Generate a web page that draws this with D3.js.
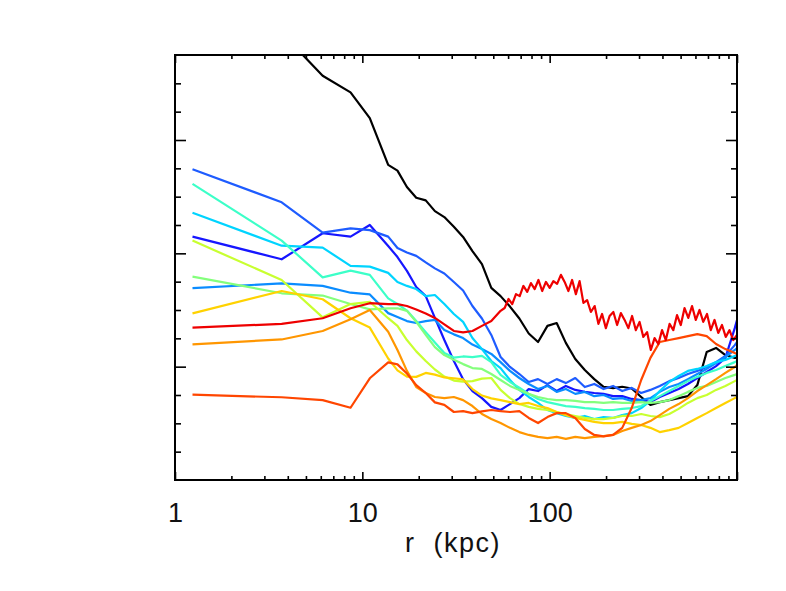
<!DOCTYPE html>
<html>
<head>
<meta charset="utf-8">
<script src="https://cdn.jsdelivr.net/npm/d3@7"></script>
<style>
  html, body { margin: 0; padding: 0; background: #fff; }
  svg { display: block; }
</style>
</head>
<body>
<svg></svg>
<script>
// radial bins (kpc), shared by most profiles
const radii = [1.24, 3.71, 6.14, 8.65, 10.96, 13.74, 15.4, 17.3, 19.4, 21.8, 24.4, 27.4, 30.8, 34.5,
  38.7, 43.5, 48.8, 54.7, 61.4, 68.9, 77.3, 86.7, 97.3, 109, 122, 137, 154, 173, 194, 218, 244,
  274, 308, 345, 387, 435, 488, 547, 614, 689, 773, 867, 973, 1000];

// the red profile is sampled more finely past ~55 kpc
const redRadii = radii.slice(0, 18).concat([57.5, 60.3, 63.1, 66.1, 69.2, 72.4, 75.9, 79.4, 83.2,
  87.1, 91.2, 95.5, 100, 104.7, 109.6, 114.8, 120.2, 125.9, 131.8, 138.0, 144.5, 151.4, 158.5,
  166.0, 173.8, 182.0, 190.5, 199.5, 208.9, 218.8, 229.1, 239.9, 251.2, 263.0, 275.4, 288.4,
  302.0, 316.2, 331.1, 346.7, 363.1, 380.2, 398.1, 416.9, 436.5, 457.1, 478.6, 501.2, 524.8,
  549.5, 575.4, 602.6, 631.0, 660.7, 691.8, 724.4, 758.6, 794.3, 831.8, 871.0, 912.0, 955.0, 1000]);

const black = [17.12, 15.78, 14.27, 13.68, 12.77, 11.12, 10.92, 10.34, 9.96, 9.87, 9.49, 9.28, 8.94,
  8.58, 8.08, 7.62, 6.78, 6.49, 6.12, 5.70, 5.17, 4.87, 5.44, 5.54, 4.84, 4.27, 3.88, 3.56, 3.29,
  3.24, 3.29, 3.23, 2.93, 2.65, 2.75, 2.82, 2.89, 2.96, 3.35, 4.52, 4.66, 4.41, 4.31, 4.31];
const blueDark = [8.59, 7.79, 8.71, 8.59, 9.00, 8.26, 7.87, 7.38, 6.81, 6.49, 5.72, 4.94, 4.20, 3.56,
  3.14, 2.89, 2.58, 2.47, 2.68, 2.89, 3.21, 3.14, 3.35, 3.14, 3.32, 3.18, 3.11, 3.07, 3.04, 2.96,
  2.96, 2.86, 2.82, 2.75, 2.93, 3.07, 3.21, 3.39, 3.60, 3.81, 4.02, 4.31, 5.36, 5.65];
const blueMid = [10.97, 9.80, 8.73, 8.88, 8.82, 8.59, 8.19, 8.03, 7.91, 7.68, 7.47, 7.29, 6.99, 6.69,
  6.14, 5.70, 5.12, 4.34, 3.99, 3.74, 3.46, 3.56, 3.39, 3.56, 3.42, 3.60, 3.28, 3.39, 3.21, 3.32,
  3.14, 3.25, 3.07, 3.18, 3.32, 3.49, 3.60, 3.74, 3.85, 3.99, 4.16, 4.38, 4.76, 4.87];
const azure = [6.77, 6.94, 6.85, 6.61, 6.55, 5.89, 5.75, 5.61, 5.54, 5.61, 5.65, 5.29, 5.14, 5.01,
  4.78, 4.62, 4.45, 4.16, 3.85, 3.60, 3.39, 3.21, 3.32, 3.11, 3.21, 3.04, 3.11, 2.96, 3.00, 2.86,
  2.89, 2.79, 2.82, 2.89, 3.11, 3.28, 3.39, 3.56, 3.74, 3.92, 4.13, 4.34, 4.59, 4.66];
const cyan = [9.43, 8.27, 8.20, 7.56, 7.53, 7.31, 6.99, 6.85, 6.74, 6.49, 6.53, 6.21, 5.86, 5.58,
  5.01, 4.62, 4.20, 3.95, 3.53, 3.18, 2.93, 2.72, 2.47, 2.36, 2.26, 2.19, 2.26, 2.15, 2.22, 2.19,
  2.29, 2.36, 2.54, 2.79, 3.14, 3.46, 3.67, 3.85, 3.92, 4.02, 4.16, 4.24, 4.38, 4.38];
const aqua = [10.45, 8.45, 7.15, 7.39, 7.24, 6.41, 6.21, 5.98, 5.61, 5.22, 4.85, 4.48, 4.32, 4.36,
  4.34, 4.38, 4.16, 3.71, 3.46, 3.26, 3.04, 2.86, 2.75, 2.68, 2.61, 2.58, 2.54, 2.51, 2.47, 2.47,
  2.51, 2.54, 2.61, 2.79, 2.96, 3.14, 3.32, 3.49, 3.64, 3.78, 3.88, 4.02, 4.16, 4.20];
const green = [7.18, 6.59, 6.51, 6.21, 6.02, 6.06, 6.06, 5.97, 5.58, 5.12, 4.69, 4.41, 4.24, 4.09,
  3.95, 3.92, 3.74, 3.53, 3.32, 3.18, 3.04, 2.93, 2.86, 2.82, 2.82, 2.79, 2.75, 2.75, 2.72, 2.75,
  2.72, 2.72, 2.75, 2.72, 2.75, 2.82, 2.96, 3.11, 3.25, 3.32, 3.46, 3.60, 3.71, 3.74];
const lime = [8.45, 7.06, 5.74, 6.21, 6.29, 5.71, 5.44, 4.94, 4.54, 4.20, 3.90, 3.65, 3.51, 3.47,
  3.49, 3.58, 3.60, 3.18, 2.89, 2.68, 2.58, 2.51, 2.47, 2.40, 2.33, 2.26, 2.19, 2.15, 2.15, 2.19,
  2.26, 2.26, 2.33, 2.26, 2.22, 2.33, 2.51, 2.72, 2.89, 3.00, 3.18, 3.32, 3.49, 3.53];
const yellow = [5.88, 6.67, 6.38, 5.71, 5.38, 4.29, 3.87, 3.65, 3.64, 3.78, 3.72, 3.62, 3.59, 3.55,
  3.21, 2.98, 2.88, 2.82, 2.75, 2.68, 2.72, 2.61, 2.54, 2.40, 2.29, 2.19, 2.12, 2.05, 2.01, 2.01,
  2.05, 1.98, 1.94, 1.84, 1.69, 1.76, 1.84, 2.01, 2.19, 2.36, 2.54, 2.72, 2.89, 2.93];
const orange = [4.79, 4.96, 5.26, 5.67, 6.00, 5.23, 4.59, 3.85, 3.28, 3.07, 2.93, 2.89, 2.93, 2.82,
  2.61, 2.33, 2.15, 2.01, 1.84, 1.69, 1.59, 1.52, 1.48, 1.52, 1.45, 1.52, 1.48, 1.52, 1.55, 1.59,
  1.73, 1.84, 1.94, 2.08, 2.29, 2.51, 2.68, 2.89, 3.14, 3.35, 3.56, 3.78, 3.99, 4.06];
const vermilion = [3.01, 2.92, 2.82, 2.55, 3.59, 4.15, 4.08, 3.76, 3.35, 3.07, 2.74, 2.65, 2.40, 2.43,
  2.36, 2.42, 2.47, 2.43, 2.40, 2.43, 2.19, 2.01, 2.22, 2.36, 2.36, 2.19, 1.80, 1.59, 1.54, 1.59,
  1.84, 2.54, 3.53, 4.31, 4.87, 4.94, 5.01, 5.08, 5.15, 5.08, 4.80, 4.62, 4.48, 4.45];
const red = [5.38, 5.51, 5.71, 6.06, 6.24, 6.21, 6.21, 6.14, 6.02, 5.88, 5.72, 5.49, 5.26, 5.21,
  5.26, 5.44, 5.61, 5.97,
  6.07, 6.39, 6.21, 6.56, 6.49, 6.85, 6.64, 6.95, 6.74, 7.06, 6.67, 6.99, 6.78, 7.02, 6.92, 7.24,
  6.99, 6.67, 7.06, 6.56, 7.02, 6.25, 6.35, 5.93, 6.14, 5.51, 5.86, 5.36, 5.79, 5.93, 5.47, 5.89,
  5.65, 5.36, 5.79, 5.29, 5.58, 5.05, 5.22, 4.59, 5.01, 4.80, 5.29, 4.94, 5.51, 5.29, 5.82, 5.47,
  6.07, 5.72, 6.14, 5.65, 6.00, 5.58, 5.86, 5.29, 5.65, 5.19, 5.47, 5.05, 5.29, 4.94, 5.12];

const xTickLabels = ['1', '10', '100'];

const profiles = [
  { r: radii, v: black, color: '#000000' },
  { r: radii, v: blueDark, color: '#1616ff' },
  { r: radii, v: blueMid, color: '#1e5cff' },
  { r: radii, v: azure, color: '#0a8cff' },
  { r: radii, v: cyan, color: '#00d4ff' },
  { r: radii, v: aqua, color: '#3cffc8' },
  { r: radii, v: green, color: '#84ff7c' },
  { r: radii, v: lime, color: '#c8ff30' },
  { r: radii, v: yellow, color: '#ffd200' },
  { r: radii, v: orange, color: '#ff9600' },
  { r: radii, v: vermilion, color: '#ff4600' },
  { r: redRadii, v: red, color: '#ee0000' }
];

const width = 786, height = 591;
const margin = { top: 55, right: 49, bottom: 111, left: 175 };
const innerWidth = width - margin.left - margin.right;
const innerHeight = height - margin.top - margin.bottom;

const svg = d3.select('svg')
  .attr('width', width)
  .attr('height', height)
  .style('background', '#fff');

const x = d3.scaleLog().domain([1, 1000]).range([0, innerWidth]);
const y = d3.scaleLinear().domain([0, 15]).range([innerHeight, 0]);

const g = svg.append('g')
  .attr('transform', `translate(${margin.left},${margin.top})`);

g.append('clipPath').attr('id', 'plot')
  .append('rect').attr('width', innerWidth).attr('height', innerHeight);

const line = d3.line()
  .x(d => x(d[0]))
  .y(d => y(d[1]));

g.append('g').attr('clip-path', 'url(#plot)')
  .selectAll('path').data(profiles)
  .enter().append('path')
  .attr('d', p => line(p.r.map((r, i) => [r, p.v[i]])))
  .attr('fill', 'none')
  .attr('stroke', p => p.color)
  .attr('stroke-width', 2.2)
  .attr('stroke-linejoin', 'round');

// ticks point inward on all four sides
const majorX = [1, 10, 100, 1000];
const minorX = [];
[1, 10, 100].forEach(dec => { for (let k = 2; k <= 9; k++) minorX.push(dec * k); });
const majorY = [4, 8, 12];
const minorY = d3.range(1, 15).filter(v => !majorY.includes(v));

const fontFamily = '"Liberation Sans", Arial, sans-serif';

function styleAxis(sel) {
  sel.select('.domain').remove();
  sel.selectAll('line').attr('stroke', '#000').attr('stroke-width', 1.6);
  sel.selectAll('text').filter(function () { return !this.textContent; }).remove();
}

g.append('g').attr('transform', `translate(0,${innerHeight})`)
  .call(d3.axisBottom(x).tickValues(minorX).tickSize(-4).tickFormat(''))
  .call(styleAxis);
g.append('g').attr('transform', `translate(0,${innerHeight})`)
  .call(d3.axisBottom(x).tickValues(majorX).tickSize(-8).tickPadding(23)
    .tickFormat((d, i) => xTickLabels[i] || ''))
  .call(styleAxis)
  .selectAll('text')
  .attr('font-family', fontFamily)
  .attr('font-size', 27)
  .attr('fill', '#111');

g.append('g')
  .call(d3.axisTop(x).tickValues(minorX).tickSize(-4).tickFormat(''))
  .call(styleAxis);
g.append('g')
  .call(d3.axisTop(x).tickValues(majorX).tickSize(-8).tickFormat(''))
  .call(styleAxis);

g.append('g')
  .call(d3.axisLeft(y).tickValues(minorY).tickSize(-6).tickFormat(''))
  .call(styleAxis);
g.append('g')
  .call(d3.axisLeft(y).tickValues(majorY).tickSize(-11).tickFormat(''))
  .call(styleAxis);
g.append('g').attr('transform', `translate(${innerWidth},0)`)
  .call(d3.axisRight(y).tickValues(minorY).tickSize(-6).tickFormat(''))
  .call(styleAxis);
g.append('g').attr('transform', `translate(${innerWidth},0)`)
  .call(d3.axisRight(y).tickValues(majorY).tickSize(-11).tickFormat(''))
  .call(styleAxis);

// frame
g.append('rect')
  .attr('width', innerWidth)
  .attr('height', innerHeight)
  .attr('fill', 'none')
  .attr('stroke', '#000')
  .attr('stroke-width', 2);

g.append('text')
  .attr('x', innerWidth / 2 - 3)
  .attr('y', innerHeight + 72)
  .attr('text-anchor', 'middle')
  .attr('font-family', fontFamily)
  .attr('font-size', 27)
  .attr('letter-spacing', 1.5)
  .attr('fill', '#111')
  .style('white-space', 'pre')
  .text('r  (kpc)');
</script>
</body>
</html>
